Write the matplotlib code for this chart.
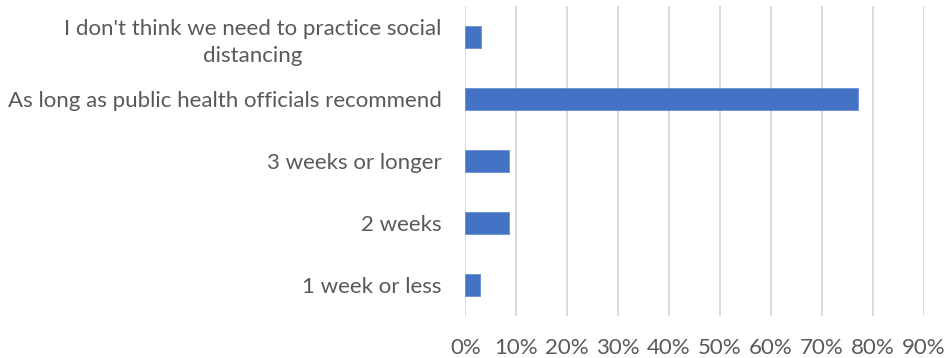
import matplotlib
matplotlib.use("Agg")
import matplotlib.pyplot as plt
from matplotlib.ticker import PercentFormatter, MultipleLocator

# Survey answers, bottom to top as drawn
answers = [
    "1 week or less",
    "2 weeks",
    "3 weeks or longer",
    "As long as public health officials recommend",
    "I don't think we need to practice social\ndistancing",
]
share_pct = [2.9, 8.5, 8.6, 77.0, 3.1]

bar_color = "#4472C4"
text_color = "#595959"
grid_color = "#D9D9D9"

plt.rcParams["font.family"] = ["Lato", "DejaVu Sans"]

fig = plt.figure(figsize=(9.48, 3.58), dpi=100)
ax = fig.add_axes([0.4908, 0.1187, 0.4836, 0.8659])

ypos = range(len(answers))
ax.barh(ypos, share_pct, height=0.355, color=bar_color,
        edgecolor="#6A8FD3", linewidth=0.6, zorder=3)

ax.set_xlim(0, 90)
ax.set_ylim(-0.5, len(answers) - 0.5)
ax.xaxis.set_major_locator(MultipleLocator(10))
ax.xaxis.set_major_formatter(PercentFormatter(decimals=0))
ax.grid(axis="x", color=grid_color, linewidth=1.4, zorder=0)
ax.grid(axis="y", visible=False)

ax.set_yticks(list(ypos))
ax.set_yticklabels(answers)
for lbl in ax.get_yticklabels():
    lbl.set_multialignment("center")
    lbl.set_linespacing(1.45)

ax.tick_params(axis="both", length=0, labelsize=16, labelcolor=text_color)
ax.tick_params(axis="x", pad=16)
ax.tick_params(axis="y", pad=17)

for side in ax.spines.values():
    side.set_visible(False)

fig.savefig("out.png", dpi=100, facecolor="white")
